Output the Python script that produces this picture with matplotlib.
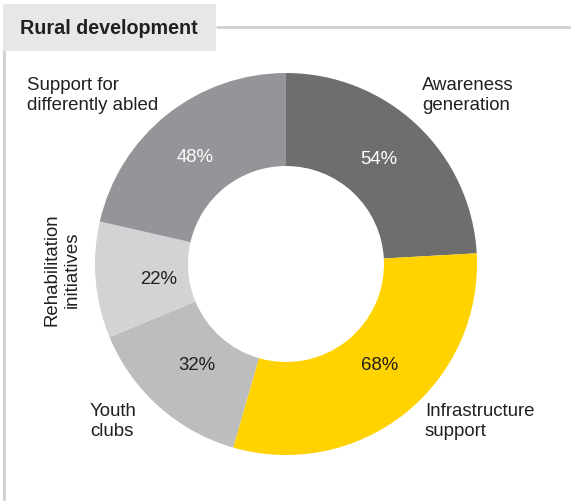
import numpy as np
import matplotlib
matplotlib.use("Agg")
import matplotlib.pyplot as plt
from matplotlib.patches import Rectangle

# Donut data (clockwise from 12 o'clock)
categories = ["Awareness\ngeneration", "Infrastructure\nsupport", "Youth\nclubs",
              "Rehabilitation\ninitiatives", "Support for\ndifferently abled"]
values = [54, 68, 32, 22, 48]
value_labels = ["54%", "68%", "32%", "22%", "48%"]
colors = ["#6d6e6d", "#ffd200", "#bcbdbd", "#d1d3d4", "#939598"]
pct_colors = ["white", "#231f20", "#231f20", "#231f20", "white"]
title = "Rural development"

W, H = 571, 502
fig = plt.figure(figsize=(W / 100, H / 100), dpi=100)
ax = fig.add_axes([0, 0, 1, 1])

plt.rcParams["font.family"] = ["Liberation Sans", "DejaVu Sans"]

def Y(py):
    return H - py

# Panel frame: header tab, top rule and left rule
ax.add_patch(Rectangle((3, Y(52)), 213, 47, facecolor="#e6e7e8", edgecolor="none", zorder=1))
ax.plot([216, W], [Y(28), Y(28)], color="#d0d0d0", lw=2, solid_capstyle="butt", zorder=1)
ax.plot([4, 4], [Y(28), 0], color="#d0d0d0", lw=2, solid_capstyle="butt", zorder=0)
ax.text(20, Y(29), title, fontsize=14.2, fontweight="bold", color="#231f20",
        ha="left", va="center", zorder=2)

cx, cy = 286, Y(265)
R, r = 191, 98
wedges, _ = ax.pie(values, colors=colors, startangle=90, counterclock=False,
                   center=(cx, cy), radius=R, frame=True,
                   wedgeprops=dict(width=R - r, edgecolor="none", linewidth=0))
ax.set_xlim(0, W)
ax.set_ylim(0, H)
ax.set_aspect("equal")
ax.axis("off")

# Value labels inside the ring
pct_pos = [(379, 159), (380, 365), (197, 365), (159, 280), (195, 157)]
for (px, py), lab, c in zip(pct_pos, value_labels, pct_colors):
    ax.text(px, Y(py), lab, fontsize=13.4, color=c, ha="center", va="center")

# Category labels
lab_kw = dict(fontsize=13.4, color="#231f20", linespacing=1.25)
ax.text(422, Y(77), categories[0], ha="left", va="top", **lab_kw)
ax.text(425, Y(403), categories[1], ha="left", va="top", **lab_kw)
ax.text(90, Y(403), categories[2], ha="left", va="top", **lab_kw)
ax.text(62, Y(270), categories[3], ha="center", va="center", rotation=90, **lab_kw)
ax.text(27, Y(77), categories[4], ha="left", va="top", **lab_kw)

fig.savefig("out.png", dpi=100)
